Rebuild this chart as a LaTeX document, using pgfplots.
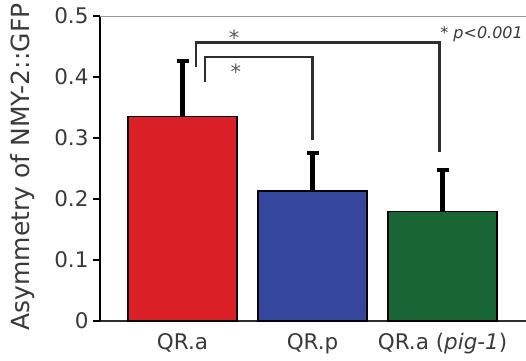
\documentclass[border=0pt]{standalone}
\usepackage{pgfplots}
\pgfplotsset{compat=1.18}
\usepackage{fontspec}
\setmainfont{DejaVu Sans}
\definecolor{barred}{HTML}{DA1F26}
\definecolor{barblue}{HTML}{35479C}
\definecolor{bargreen}{HTML}{176634}
\definecolor{txt}{HTML}{3A3A3A}
\definecolor{brk}{HTML}{2E2E2E}
\begin{document}
\begin{tikzpicture}
\begin{axis}[
  scale only axis, width=426pt, height=305pt,
  xmin=-0.635, xmax=2.642, ymin=0, ymax=0.5,
  axis lines*=left,
  x axis line style={draw=brk, line width=1.3pt},
  y axis line style={draw=black, line width=1.6pt},
  ytick={0,0.1,0.2,0.3,0.4,0.5},
  yticklabels={0,0.1,0.2,0.3,0.4,0.5},
  ytick style={black, line width=1.6pt},
  tick align=outside, major tick length=7pt,
  xtick={0,1,2}, xticklabels={QR.a, QR.p, {QR.a (\textit{pig-1})}},
  xtick style={draw=none},
  ticklabel style={font=\fontsize{21.5}{25}\selectfont, text=txt},
  yticklabel style={xshift=-1pt},
  xticklabel style={yshift=-2pt},
  ylabel={Asymmetry of NMY-2::GFP},
  ylabel style={at={(axis description cs:-0.181,0.505)}, anchor=center, font=\fontsize{25}{29}\selectfont, text=txt},
  ybar, bar width=109pt, bar shift=0pt,
  clip=false,
]
\addplot[fill=barred, draw=black, line width=1.3pt,
  error bars/.cd, y dir=plus, y explicit,
  error bar style={line width=4.5pt, black},
  error mark options={rotate=90, mark size=6pt, line width=4pt, black}]
  coordinates {(0,0.335) +- (0,0.092)};
\addplot[fill=barblue, draw=black, line width=1.3pt,
  error bars/.cd, y dir=plus, y explicit,
  error bar style={line width=4.5pt, black},
  error mark options={rotate=90, mark size=6pt, line width=4pt, black}]
  coordinates {(1,0.213) +- (0,0.062)};
\addplot[fill=bargreen, draw=black, line width=1.3pt,
  error bars/.cd, y dir=plus, y explicit,
  error bar style={line width=4.5pt, black},
  error mark options={rotate=90, mark size=6pt, line width=4pt, black}]
  coordinates {(2,0.179) +- (0,0.069)};
\draw[gray!80, line width=0.9pt] (rel axis cs:0,1) -- (rel axis cs:1,1);
\draw[brk, line width=2.6pt] (axis cs:0.104,0.416) -- (axis cs:0.104,0.457) -- (axis cs:1.975,0.457) -- (axis cs:1.975,0.277);
\draw[brk, line width=2.6pt] (axis cs:0.173,0.392) -- (axis cs:0.173,0.433) -- (axis cs:1.0,0.433) -- (axis cs:1.0,0.297);
\node[text=gray!70!black, font=\fontsize{21}{24}\selectfont] at (axis cs:0.396,0.465) {*};
\node[text=gray!70!black, font=\fontsize{21}{24}\selectfont] at (axis cs:0.41,0.408) {*};
\node[text=txt, anchor=east, font=\fontsize{16}{19}\selectfont\itshape] at (axis cs:2.645,0.470) {* p<0.001};
\end{axis}
\pgfresetboundingbox
\useasboundingbox (-100pt,-39pt) rectangle (426pt,321pt);
\end{tikzpicture}
\end{document}
